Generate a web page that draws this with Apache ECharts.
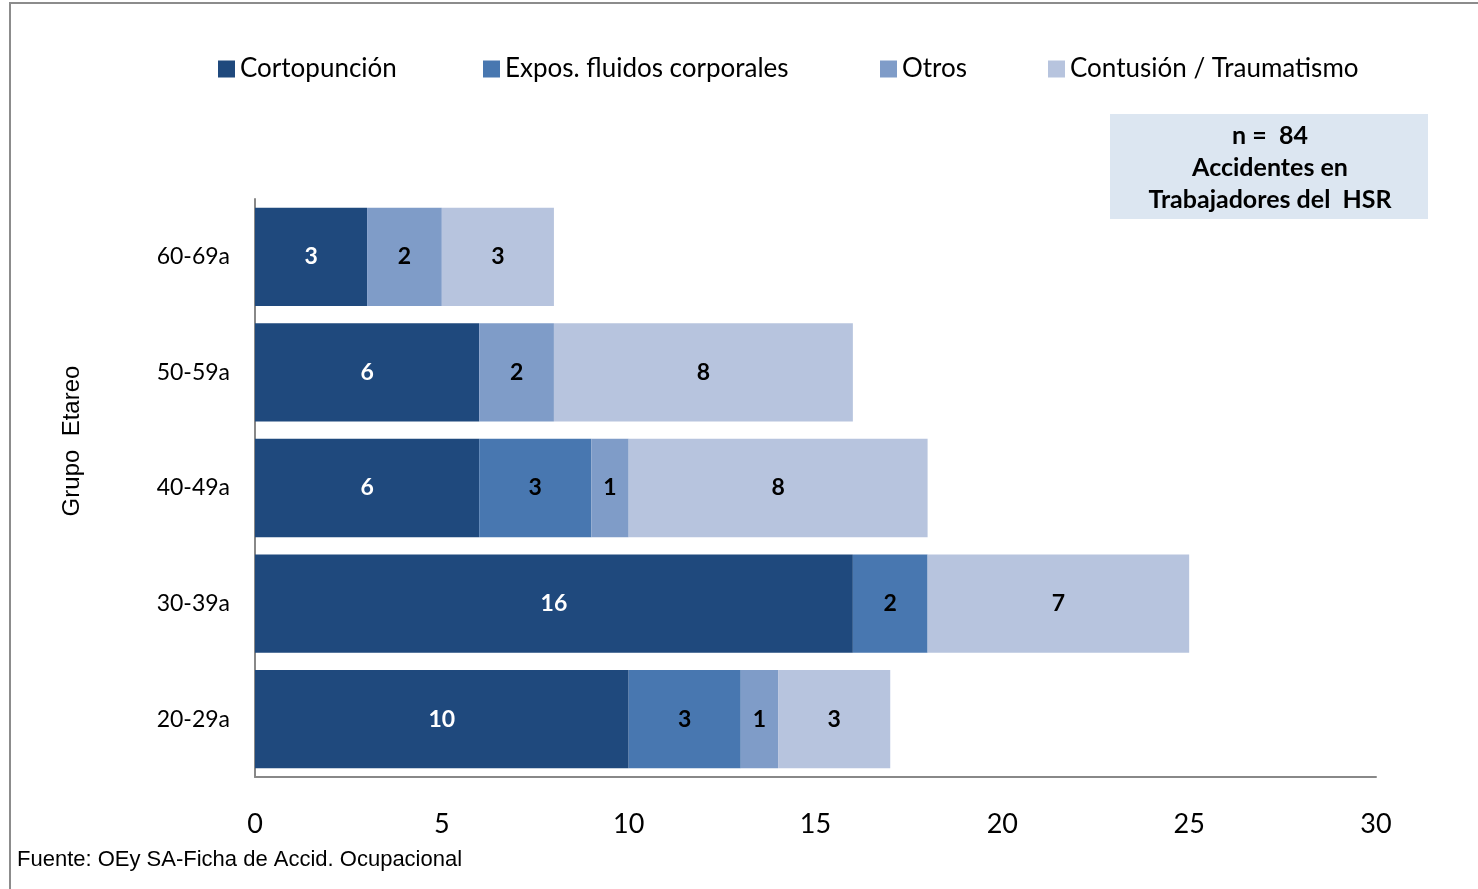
<!DOCTYPE html>
<html><head><meta charset="utf-8">
<script src="https://cdn.jsdelivr.net/npm/echarts@6/dist/echarts.min.js"></script>
<style>html,body{margin:0;padding:0;background:#fff}#c{width:1478px;height:889px}</style>
</head><body><div id="c"></div>
<script>
const categories = ['20-29a', '30-39a', '40-49a', '50-59a', '60-69a'];
const cortopuncion = [10, 16, 6, 6, 3];
const expos = [3, 2, 3, 0, 0];
const otros = [1, 0, 1, 2, 2];
const contusion = [3, 7, 8, 8, 3];
const seriesNames = ['Cortopunción', 'Expos. fluidos corporales', 'Otros', 'Contusión / Traumatismo'];
const xTicks = [0, 5, 10, 15, 20, 25, 30];
const yAxisTitle = 'Grupo  Etareo';
const noteLines = ['n =  84', 'Accidentes en', 'Trabajadores del  HSR'];
const footer = 'Fuente: OEy SA-Ficha de Accid. Ocupacional';

const colors = ['#1F497D', '#4877B0', '#7F9CC8', '#B7C4DE'];
const labelColors = ['#ffffff', '#000000', '#000000', '#000000'];
const values = [cortopuncion, expos, otros, contusion];
const FONT = 'Lato, "Open Sans", sans-serif';

const chart = echarts.init(document.getElementById('c'));
const legendLefts = [213, 478, 875, 1043];
const legends = seriesNames.map((n, i) => ({
  data: [n], left: legendLefts[i], top: 51, itemWidth: 17, itemHeight: 17, itemGap: 8,
  icon: 'rect', textStyle: { fontFamily: FONT, fontSize: 26, color: '#000' }
}));

chart.setOption({
  animation: false,
  color: colors,
  legend: legends,
  grid: { left: 255, right: 102, top: 199, bottom: 112, containLabel: false },
  xAxis: {
    type: 'value', min: 0, max: 30, interval: 5,
    axisLine: { show: true, lineStyle: { color: '#888', width: 2 } },
    axisTick: { show: false }, splitLine: { show: false },
    axisLabel: { margin: 34, fontFamily: FONT, fontSize: 27, color: '#000',
      formatter: v => xTicks.includes(v) ? String(v) : '' }
  },
  yAxis: {
    type: 'category', data: categories,
    axisLine: { show: true, lineStyle: { color: '#888', width: 2 } },
    axisTick: { show: false },
    axisLabel: { margin: 25, fontFamily: FONT, fontSize: 23, color: '#000' }
  },
  series: seriesNames.map((n, i) => ({
    name: n, type: 'bar', stack: 'total', barCategoryGap: '15%',
    data: values[i].map(v => v === 0 ? null : v),
    itemStyle: { color: colors[i] },
    label: { show: true, position: 'inside', color: labelColors[i], fontFamily: FONT,
      fontWeight: 'bold', fontSize: 23 }
  })),
  graphic: [
    { type: 'rect', shape: { x: 10, y: 3, width: 1500, height: 900 }, silent: true, z: -10,
      style: { fill: 'none', stroke: '#8c8c8c', lineWidth: 2 } },
    { type: 'text', x: 72, y: 441, rotation: Math.PI / 2,
      style: { text: yAxisTitle, fill: '#000', font: '24px "Liberation Sans", Arial, sans-serif',
        align: 'center', verticalAlign: 'middle' } },
    { type: 'rect', shape: { x: 1110, y: 114, width: 318, height: 105 },
      style: { fill: '#DCE6F1' } },
    ...noteLines.map((t, i) => ({ type: 'text', x: 1270, y: 136 + i * 32,
      style: { text: t, fill: '#000', font: 'bold 25px ' + FONT, align: 'center', verticalAlign: 'middle' } })),
    { type: 'text', x: 17, y: 860, style: { text: footer, fill: '#000',
      font: '22px "Liberation Sans", Arial, sans-serif', verticalAlign: 'middle' } }
  ]
});
</script></body></html>
